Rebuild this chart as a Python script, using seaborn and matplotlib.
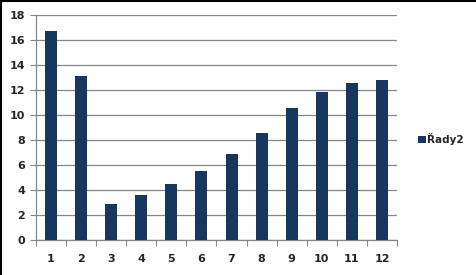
import matplotlib
matplotlib.use("Agg")
import matplotlib.pyplot as plt
import seaborn as sns
import pandas as pd
import numpy as np
from matplotlib.patches import Patch
from matplotlib.lines import Line2D

categories = ["1", "2", "3", "4", "5", "6", "7", "8", "9", "10", "11", "12"]
values = [16.75, 13.15, 2.9, 3.6, 4.5, 5.55, 6.9, 8.55, 10.6, 11.85, 12.6, 12.8]
series_name = "Řady2"
y_ticks = [0, 2, 4, 6, 8, 10, 12, 14, 16, 18]

df = pd.DataFrame({"cat": categories, "val": values})

sns.set_theme(style="white")
plt.rcParams["font.family"] = ["DejaVu Sans"]

fig = plt.figure(figsize=(4.76, 2.75), dpi=100)
ax = fig.add_axes([36/476, 1 - 240/275, (397-36)/476, (240-15.3)/275])

color = "#17375E"
sns.barplot(data=df, x="cat", y="val", color=color, width=0.4, ax=ax,
            saturation=1, edgecolor="none", zorder=3)

ax.set_ylim(0, 18)
ax.set_xlim(-0.5, len(categories) - 0.5)
ax.set_yticks(y_ticks)
ax.set_yticklabels([str(t) for t in y_ticks], fontsize=8, fontweight="bold")
ax.yaxis.grid(True, color="#868686", linewidth=0.9, zorder=0)
ax.xaxis.grid(False)

# x: major ticks at boundaries, labels at centers (minor)
ax.set_xticks(np.arange(-0.5, len(categories), 1.0))
ax.set_xticklabels([""] * (len(categories) + 1))
ax.set_xticks(np.arange(len(categories)), minor=True)
ax.set_xticklabels(categories, minor=True, fontsize=8, fontweight="bold")
ax.tick_params(axis="x", which="major", direction="out", length=4, width=0.8,
               color="#868686", bottom=True)
ax.tick_params(axis="x", which="minor", length=0, pad=10)
ax.tick_params(axis="y", direction="out", length=4, width=0.8, color="#868686",
               left=True, pad=4)
ax.set_xlabel("")
ax.set_ylabel("")

for s in ["top", "right"]:
    ax.spines[s].set_visible(False)
for s in ["left", "bottom"]:
    ax.spines[s].set_color("#868686")
    ax.spines[s].set_linewidth(0.9)

handle = Patch(facecolor=color, edgecolor="none")
fig.legend([handle], [series_name], loc="center left",
           bbox_to_anchor=(413/476, 1 - 139/275), frameon=False,
           prop={"size": 7.5, "weight": "bold"}, handlelength=0.7,
           handleheight=0.7, handletextpad=0.15, borderpad=0)

# figure border (left and top)
fig.add_artist(Line2D([0.002, 0.002], [0, 1], transform=fig.transFigure,
                      color="black", linewidth=1.5))
fig.add_artist(Line2D([0, 1], [0.998, 0.998], transform=fig.transFigure,
                      color="black", linewidth=1.5))

fig.savefig("out.png", dpi=100)
